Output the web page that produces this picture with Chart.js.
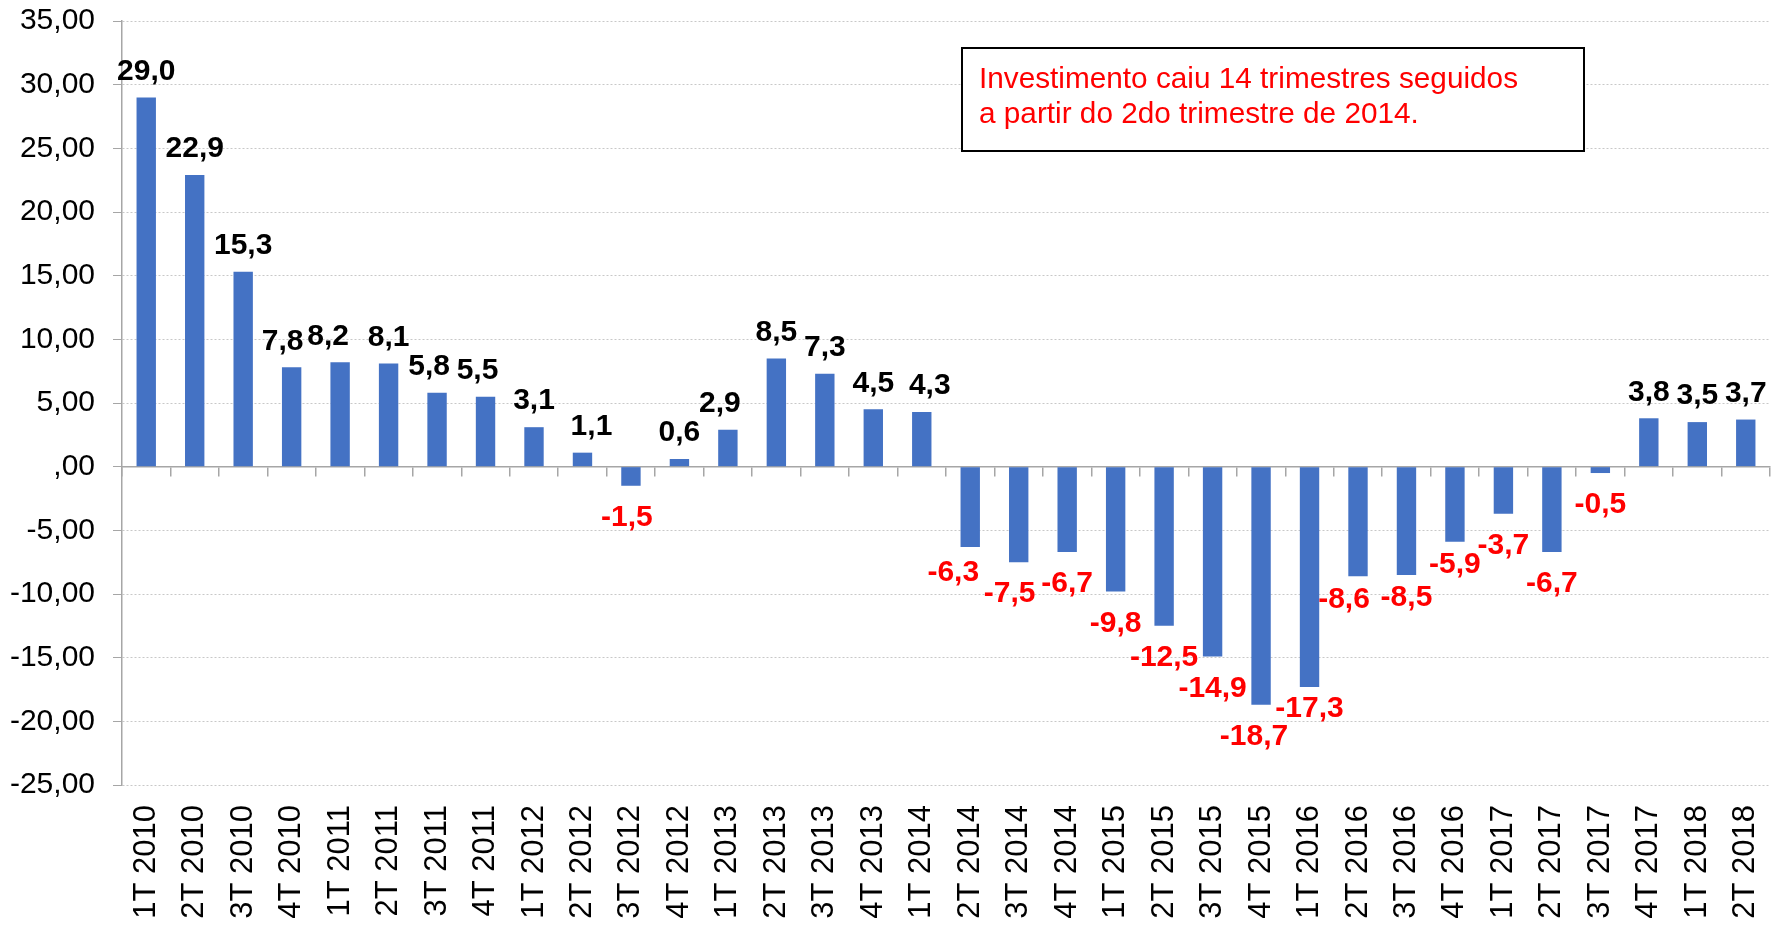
<!DOCTYPE html>
<html>
<head>
<meta charset="utf-8">
<script src="https://cdn.jsdelivr.net/npm/chart.js@4.4.1/dist/chart.umd.min.js"></script>
<style>
  body { margin: 0; background: #fff; }
  #wrap { width: 1784px; height: 926px; }
</style>
</head>
<body>
<div id="wrap"><canvas id="bar-chart" width="1784" height="926"></canvas></div>
<script>
const quarters = [
  '1T 2010', '2T 2010', '3T 2010', '4T 2010',
  '1T 2011', '2T 2011', '3T 2011', '4T 2011',
  '1T 2012', '2T 2012', '3T 2012', '4T 2012',
  '1T 2013', '2T 2013', '3T 2013', '4T 2013',
  '1T 2014', '2T 2014', '3T 2014', '4T 2014',
  '1T 2015', '2T 2015', '3T 2015', '4T 2015',
  '1T 2016', '2T 2016', '3T 2016', '4T 2016',
  '1T 2017', '2T 2017', '3T 2017', '4T 2017',
  '1T 2018', '2T 2018'
];

const investimento = [
  29.0, 22.9, 15.3, 7.8,
  8.2, 8.1, 5.8, 5.5,
  3.1, 1.1, -1.5, 0.6,
  2.9, 8.5, 7.3, 4.5,
  4.3, -6.3, -7.5, -6.7,
  -9.8, -12.5, -14.9, -18.7,
  -17.3, -8.6, -8.5, -5.9,
  -3.7, -6.7, -0.5, 3.8,
  3.5, 3.7
];

const noteLines = [
  'Investimento caiu 14 trimestres seguidos',
  'a partir do 2do trimestre de 2014.'
];

const FONT = '"Liberation Sans", Arial, sans-serif';

// hand nudges for a few value labels (pixels), like the moved labels in the original
const labelNudge = {
  3: [-9, 0], 4: [-12, 0], 6: [-8, 0], 7: [-8, 0], 9: [9, 0],
  10: [-4, 0], 12: [-8, 0], 16: [8, 0], 17: [-17, -6], 18: [-9, 0],
  23: [-7, 0], 24: [0, -10], 25: [-14, -8], 26: [0, -9], 27: [0, -9]
};

// value labels on top / below each bar
const barLabels = {
  id: 'barLabels',
  afterDatasetsDraw(chart) {
    const ctx = chart.ctx;
    const meta = chart.getDatasetMeta(0);
    ctx.save();
    ctx.font = 'bold 30px ' + FONT;
    ctx.textAlign = 'center';
    ctx.textBaseline = 'middle';
    meta.data.forEach((bar, i) => {
      const v = investimento[i];
      const txt = v.toFixed(1).replace('.', ',');
      const [dx, dy] = labelNudge[i] || [0, 0];
      if (v >= 0) {
        ctx.fillStyle = '#000';
        ctx.fillText(txt, bar.x + dx, bar.y - 26 + dy);
      } else {
        ctx.fillStyle = '#ff0000';
        ctx.fillText(txt, bar.x + dx, bar.y + 32 + dy);
      }
    });
    ctx.restore();
  }
};

// text box in the upper right
const noteBox = {
  id: 'noteBox',
  afterDraw(chart) {
    const ctx = chart.ctx;
    const x = 962, y = 48, w = 622, h = 103;
    ctx.save();
    ctx.fillStyle = '#fff';
    ctx.fillRect(x, y, w, h);
    ctx.strokeStyle = '#000';
    ctx.lineWidth = 2;
    ctx.strokeRect(x, y, w, h);
    ctx.font = '30px ' + FONT;
    ctx.fillStyle = '#ff0000';
    ctx.textBaseline = 'alphabetic';
    const sx = 539 / ctx.measureText(noteLines[0]).width;
    ctx.translate(979, 0);
    ctx.scale(sx, 1);
    ctx.fillText(noteLines[0], 0, 88);
    ctx.fillText(noteLines[1], 0, 123);
    ctx.restore();
  }
};

new Chart(document.getElementById('bar-chart'), {
  type: 'bar',
  data: {
    labels: quarters,
    datasets: [{
      label: 'Investimento',
      data: investimento,
      backgroundColor: '#4472c4',
      borderWidth: 0,
      barPercentage: 0.4,
      categoryPercentage: 1.0
    }]
  },
  options: {
    responsive: false,
    animation: false,
    devicePixelRatio: 1,
    layout: { padding: { top: 21, right: 14, bottom: 0, left: 0 } },
    plugins: {
      legend: { display: false },
      tooltip: { enabled: false }
    },
    scales: {
      x: {
        offset: true,
        grid: { display: false },
        border: { display: false },
        ticks: {
          color: '#000',
          font: { family: FONT, size: 31 },
          minRotation: 90,
          maxRotation: 90,
          padding: 12,
          autoSkip: false
        },
        afterFit(scale) {
          scale.height = 141;
          scale.paddingLeft = 0;
          scale.paddingRight = 0;
        }
      },
      x2: {
        type: 'category',
        labels: quarters,
        position: { y: 0 },
        offset: true,
        grid: {
          offset: true,
          drawOnChartArea: false,
          tickLength: 9,
          color: '#a6a6a6',
          lineWidth: 1.5
        },
        border: { color: '#a6a6a6', width: 1.5 },
        ticks: { display: false }
      },
      y: {
        min: -25,
        max: 35,
        grid: {
          color: '#c8c8c8',
          tickColor: '#a6a6a6',
          tickLength: 9,
          tickBorderDash: []
        },
        border: { color: '#a6a6a6', width: 1.5, dash: [2, 2] },
        ticks: {
          stepSize: 5,
          color: '#000',
          padding: 18,
          font: { family: FONT, size: 30 },
          callback: v => v === 0 ? ',00' : v.toFixed(2).replace('.', ',')
        },
        afterFit(scale) {
          scale.width = 122;
          scale.paddingTop = 0;
          scale.paddingBottom = 0;
        }
      }
    }
  },
  plugins: [barLabels, noteBox]
});
</script>
</body>
</html>
